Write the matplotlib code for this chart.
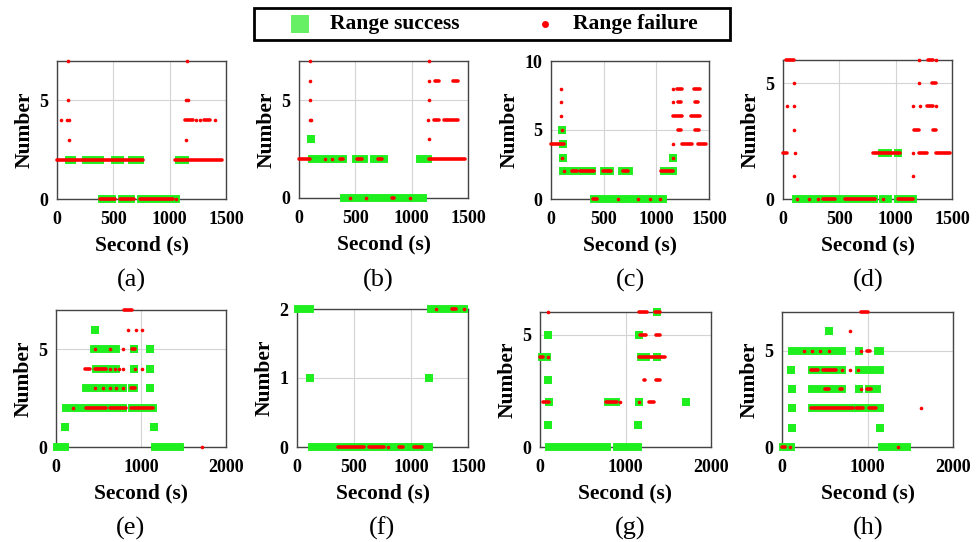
import matplotlib
matplotlib.use("Agg")
import matplotlib.pyplot as plt
from matplotlib.lines import Line2D
from matplotlib.patches import Rectangle

plt.rcParams['font.family'] = ['Liberation Serif', 'DejaVu Serif']

GREEN = '#1fef1f'
RED = '#ff0000'
SQ = 5.7   # green square side (pt)
RD = 2.6   # red dot diameter (pt)

# each run: (y, x_start, x_end); each point: (y, x)
# ---- (a)
green_runs_a = [(2, 109, 129), (2, 260, 380), (2, 518, 561), (2, 668, 737), (2, 1083, 1137),
                (0, 395, 490), (0, 577, 655), (0, 744, 1055)]
green_pts_a = []
red_runs_a = [(2, 0, 760), (2, 1045, 1465), (0, 385, 515), (0, 560, 680), (0, 735, 1030),
              (4, 1138, 1205), (4, 1308, 1358)]
red_pts_a = [(7, 97), (7, 1153), (5, 97), (5, 1148), (5, 1160), (4, 35), (4, 88), (4, 109),
             (4, 1235), (4, 1265), (4, 1405), (3, 109), (3, 1147), (0, 1053)]
# ---- (b)
green_runs_b = [(2, 113, 389), (2, 505, 576), (2, 669, 751), (2, 1070, 1147), (0, 401, 1102)]
green_pts_b = [(3, 110)]
red_runs_b = [(2, 0, 95), (2, 362, 392), (2, 511, 555), (2, 704, 734), (2, 1150, 1475),
              (4, 1200, 1245), (4, 1290, 1415), (6, 1210, 1240), (6, 1363, 1408), (0, 823, 847)]
red_pts_b = [(7, 101), (7, 1158), (6, 101), (6, 1153), (5, 101), (5, 1150), (4, 95), (4, 104),
             (4, 1148), (3, 1153), (2, 230), (2, 294), (0, 451), (0, 594), (0, 983)]
# ---- (c)
green_runs_c = [(2, 117, 392), (2, 506, 562), (2, 672, 744), (2, 1071, 1158), (0, 405, 1067)]
green_pts_c = [(5, 108), (4, 115), (3, 112), (3, 1155)]
red_runs_c = [(4, 0, 125), (4, 1240, 1338), (4, 1400, 1475), (2, 198, 245), (2, 276, 408),
              (2, 496, 565), (2, 685, 731), (2, 1045, 1162), (0, 402, 440),
              (6, 1155, 1245), (6, 1330, 1410), (8, 1200, 1245), (8, 1360, 1413),
              (7, 1210, 1235), (7, 1370, 1400), (5, 1210, 1235), (5, 1365, 1405)]
red_pts_c = [(8, 97), (8, 1160), (7, 97), (7, 1160), (6, 97), (5, 104), (4, 1155), (3, 104),
             (3, 1155), (2, 126), (0, 637), (0, 826), (0, 936), (0, 1036)]
# ---- (d)
green_runs_d = [(2, 883, 929), (0, 113, 805), (0, 891, 929), (0, 1025, 1151)]
green_pts_d = [(2, 1021)]
red_runs_d = [(6, 30, 98), (6, 1287, 1332), (2, 0, 38), (2, 800, 1036), (2, 1205, 1282),
              (2, 1362, 1480), (3, 1163, 1205), (3, 1332, 1362), (4, 1279, 1332),
              (5, 1323, 1362), (0, 355, 459), (0, 548, 814), (0, 1021, 1154)]
red_pts_d = [(6, 1208), (6, 1362), (5, 98), (5, 1208), (4, 38), (4, 98), (4, 1154), (4, 1213),
             (4, 1362), (3, 98), (2, 104), (2, 1154), (1, 98), (1, 1154),
             (0, 127), (0, 228), (0, 311), (0, 888)]
# ---- (e)
green_runs_e = [(5, 452, 701), (4, 471, 701), (3, 354, 787), (3, 899, 913), (2, 122, 787),
                (2, 899, 1140), (0, 13, 101), (0, 1169, 1461)]
green_pts_e = [(6, 462), (5, 913), (5, 1105), (4, 919), (4, 1105), (3, 1105), (1, 106), (1, 1156)]
red_runs_e = [(7, 800, 890), (4, 340, 400), (4, 460, 590), (2, 353, 588), (2, 635, 823),
              (2, 882, 1137), (5, 890, 930), (3, 878, 930)]
red_pts_e = [(6, 850), (6, 937), (6, 1007), (5, 460), (5, 635), (5, 792), (4, 635), (4, 694),
             (4, 745), (4, 792), (4, 930), (4, 1015), (3, 458), (3, 549), (3, 635), (3, 706),
             (3, 784), (2, 196), (0, 1713)]
# ---- (f)
green_runs_f = [(2, 13, 113), (2, 1172, 1467), (0, 129, 1155)]
green_pts_f = [(1, 117), (1, 1162)]
red_runs_f = [(0, 359, 584), (0, 628, 760), (0, 891, 934), (0, 1022, 1095), (2, 1364, 1393)]
red_pts_f = [(2, 1218), (2, 1469), (0, 794)]
# ---- (g)
green_runs_g = [(4, 24, 81), (4, 1178, 1238), (2, 795, 887), (0, 103, 785), (0, 904, 1149)]
green_pts_g = [(6, 1368), (5, 98), (5, 1163), (4, 1368), (3, 98), (2, 105), (2, 1153),
               (2, 1705), (1, 98), (1, 1146)]
red_runs_g = [(6, 1161, 1251), (6, 1349, 1408), (5, 1165, 1243), (5, 1360, 1408), (4, 0, 39),
              (4, 1161, 1466), (3, 1212, 1232), (3, 1360, 1408), (2, 31, 110), (2, 774, 899),
              (2, 1271, 1329)]
red_pts_g = [(6, 98), (4, 98), (2, 938), (2, 1153)]
# ---- (h)
green_runs_h = [(5, 114, 701), (5, 1128, 1146), (4, 356, 701), (4, 902, 1146), (3, 356, 701),
                (3, 1019, 1107), (2, 356, 1146), (0, 9, 104), (0, 1167, 1458)]
green_pts_h = [(6, 546), (5, 903), (4, 105), (3, 117), (3, 903), (2, 117), (1, 117), (1, 1151)]
red_runs_h = [(7, 928, 1006), (5, 998, 1026), (4, 343, 421), (4, 480, 636), (3, 499, 546),
              (3, 679, 706), (3, 998, 1045), (2, 343, 831), (2, 870, 948), (2, 1018, 1104),
              (0, 0, 31)]
red_pts_h = [(6, 796), (5, 257), (5, 351), (5, 449), (5, 550), (5, 928), (4, 702), (4, 792),
             (4, 889), (3, 920), (2, 1622), (0, 90), (0, 1357)]

panels = [
    ("(a)", green_runs_a, green_pts_a, red_runs_a, red_pts_a, 1500, [0, 500, 1000, 1500], 7, [0, 5]),
    ("(b)", green_runs_b, green_pts_b, red_runs_b, red_pts_b, 1500, [0, 500, 1000, 1500], 7, [0, 5]),
    ("(c)", green_runs_c, green_pts_c, red_runs_c, red_pts_c, 1500, [0, 500, 1000, 1500], 10, [0, 5, 10]),
    ("(d)", green_runs_d, green_pts_d, red_runs_d, red_pts_d, 1500, [0, 500, 1000, 1500], 6, [0, 5]),
    ("(e)", green_runs_e, green_pts_e, red_runs_e, red_pts_e, 2000, [0, 1000, 2000], 7, [0, 5]),
    ("(f)", green_runs_f, green_pts_f, red_runs_f, red_pts_f, 1500, [0, 500, 1000, 1500], 2, [0, 1, 2]),
    ("(g)", green_runs_g, green_pts_g, red_runs_g, red_pts_g, 2000, [0, 1000, 2000], 6, [0, 5]),
    ("(h)", green_runs_h, green_pts_h, red_runs_h, red_pts_h, 2000, [0, 1000, 2000], 7, [0, 5]),
]

# axes boxes in pixels: left, right, top, bottom
boxes = [(57, 226, 61, 199), (299, 468, 61, 198), (551, 709, 61, 199), (783, 952, 60, 199),
         (56, 226, 310, 447), (297, 468, 309, 447), (540, 711, 312, 447), (782, 953, 312, 447)]
label_xy = [(131, 280), (378, 280), (630, 280), (868, 280),
            (130, 528), (382, 528), (630, 528), (868, 528)]

W, H = 980, 542
fig = plt.figure(figsize=(W / 100, H / 100), dpi=100)

for (name, gr, gp, rr, rp, xmax, xt, ymax, yt), (l, r, t, b), (lx, ly) in zip(panels, boxes, label_xy):
    ax = fig.add_axes([l / W, 1 - b / H, (r - l) / W, (b - t) / H])
    for y, x0, x1 in gr:
        ax.plot([x0, x1], [y, y], color=GREEN, lw=SQ, solid_capstyle='projecting',
                clip_on=False, zorder=3)
    if gp:
        ax.scatter([p[1] for p in gp], [p[0] for p in gp], marker='s', s=SQ ** 2,
                   color=GREEN, lw=0, clip_on=False, zorder=3)
    for y, x0, x1 in rr:
        ax.plot([x0, x1], [y, y], color=RED, lw=RD, solid_capstyle='round',
                clip_on=False, zorder=4)
    ax.scatter([p[1] for p in rp], [p[0] for p in rp], marker='o', s=RD ** 2,
               color=RED, lw=0, clip_on=False, zorder=4)
    ax.set_xlim(0, xmax)
    ax.set_ylim(0, ymax)
    ax.set_xticks(xt)
    ax.set_yticks(yt)
    ax.grid(True, color='#d4d4d4', lw=0.8)
    ax.set_axisbelow(True)
    ax.tick_params(length=0, labelsize=13)
    ax.tick_params(axis='x', pad=9)
    ax.tick_params(axis='y', pad=6)
    for lab in ax.get_xticklabels() + ax.get_yticklabels():
        lab.set_fontweight('bold')
    for s in ax.spines.values():
        s.set_color('#444444')
        s.set_linewidth(1.0)
    ax.set_xlabel("Second (s)", fontsize=15.5, fontweight='bold', labelpad=5)
    ax.set_ylabel("Number", fontsize=15.5, fontweight='bold', labelpad=4)
    fig.text(lx / W, 1 - ly / H, name, fontsize=19, ha='center', va='center')

# legend box drawn by hand to match the placement
fig.add_artist(Rectangle((254 / W, 1 - 40 / H), 476 / W, 32 / H, transform=fig.transFigure,
                         facecolor='white', edgecolor='black', lw=2))
fig.add_artist(Line2D([300 / W], [1 - 24 / H], transform=fig.transFigure, marker='s',
                      ls='', color='#66f066', ms=13, mew=0))
fig.add_artist(Line2D([545 / W], [1 - 24 / H], transform=fig.transFigure, marker='o',
                      ls='', color=RED, ms=5, mew=0))
fig.text(330 / W, 1 - 24 / H, "Range success", fontsize=15.5, fontweight='bold', va='center')
fig.text(573 / W, 1 - 24 / H, "Range failure", fontsize=15.5, fontweight='bold', va='center')

fig.savefig("out.png", dpi=100)
